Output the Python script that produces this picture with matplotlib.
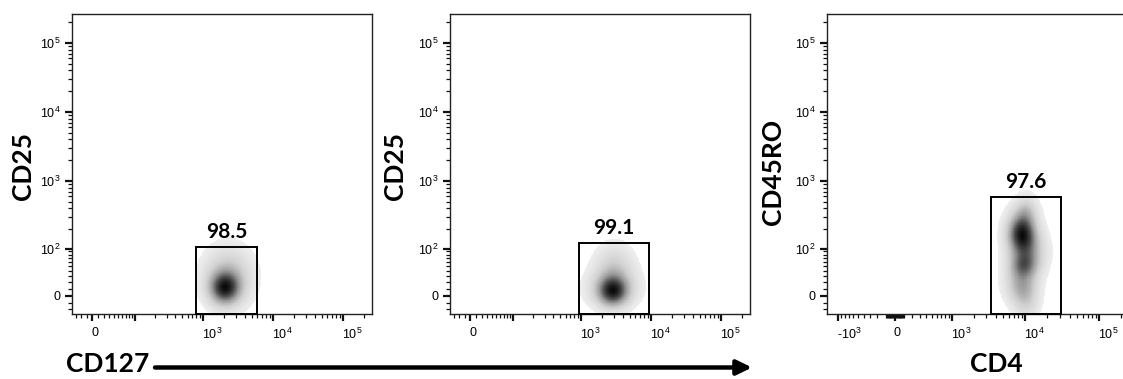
import numpy as np
import matplotlib
matplotlib.use("Agg")
import matplotlib.pyplot as plt
from matplotlib.colors import LinearSegmentedColormap
from matplotlib.patches import Rectangle, FancyArrowPatch, ArrowStyle
from matplotlib.ticker import FixedLocator, FixedFormatter
from matplotlib.transforms import ScaledTranslation

plt.rcParams["mathtext.fontset"] = "custom"
plt.rcParams["mathtext.rm"] = "Liberation Sans"
plt.rcParams["font.family"] = ["Liberation Sans", "DejaVu Sans"]

W, H = 1123, 379
LN10 = np.log(10.0)

# ---- data ----
y_titles = ["CD25", "CD25", "CD45RO"]
gate_freq = ["98.5", "99.1", "97.6"]
gate_x = [(790, 5900), (930, 9400), (3460, 30600)]      # gate left/right (fluorescence)
gate_ytop = [105, 122, 580]

# density blobs: (x, y, sigma_x [decades], sigma_y [decades], weight)
blob_cd127_a = [(2050, 11, 0.15, 0.16, 1.0), (2300, 30, 0.25, 0.3, 0.5)]
blob_cd127_b = [(2850, 6, 0.15, 0.15, 1.0), (3000, 45, 0.2, 0.25, 0.4),
                (2800, 10, 0.28, 0.2, 0.3)]
blob_cd4 = [(9000, 170, 0.13, 0.2, 1.0), (9500, 52, 0.13, 0.13, 0.5),
            (8500, 15, 0.14, 0.18, 0.35), (12000, 90, 0.15, 0.2, 0.3),
            (10500, -5, 0.12, 0.25, 0.25), (10500, 380, 0.1, 0.15, 0.25),
            (9500, 90, 0.22, 0.5, 0.15)]
blobs = [blob_cd127_a, blob_cd127_b, blob_cd4]

major_x12 = [0, 1e2, 1e3, 1e4, 1e5]
major_x12_lab = ["0", "", "$10^3$", "$10^4$", "$10^5$"]
major_x3 = [-1e3, 0, 1e3, 1e4, 1e5]
major_x3_lab = ["-$10^3$", "0", "$10^3$", "$10^4$", "$10^5$"]
major_y = [0, 1e2, 1e3, 1e4, 1e5]
major_y_lab = ["0", "$10^2$", "$10^3$", "$10^4$", "$10^5$"]

# asinh scale widths and limits per axis
c_x12, xlim12 = 26.0, (-37.5, 262144)
c_x3, xlim3 = 175.0, (-1430, 262144)
c_y, ylim = 21.5, (-27.6, 262144)

THRESH = 0.06
DENS_CMAP = LinearSegmentedColormap.from_list(
    "dens", ["#eeeeee", "#cfcfcf", "#999999", "#4a4a4a", "#0a0a0a"])


def make_scale(c):
    def fwd(v):
        return np.arcsinh(np.asarray(v, float) / (2 * c)) / LN10

    def inv(u):
        return 2 * c * np.sinh(np.asarray(u, float) * LN10)
    return fwd, inv


def minor_ticks(lo, hi, majors):
    vals = []
    for k in range(1, 6):
        for m in range(1, 10):
            for s in (1, -1):
                t = s * m * 10 ** k
                if lo < t < hi and t not in majors:
                    vals.append(t)
    return sorted(vals)


def px_axes(fig, left, right, top=14, bottom=314):
    return fig.add_axes([left / W, 1 - bottom / H, (right - left) / W, (bottom - top) / H])


def draw_blob(ax, comps, sx_fn, sy_fn, xlim, ylim):
    fx, ix = sx_fn
    fy, iy = sy_fn
    u = np.linspace(fx(xlim[0]), fx(xlim[1]), 700)
    v = np.linspace(fy(ylim[0]), fy(ylim[1]), 700)
    U, V = np.meshgrid(u, v)
    d = np.zeros_like(U)
    for x0, y0, sx, sy, w in comps:
        d += w * np.exp(-0.5 * (((U - fx(x0)) / sx) ** 2 + ((V - fy(y0)) / sy) ** 2))
    d /= d.max()
    d = np.ma.masked_less(d, THRESH)
    ax.pcolormesh(ix(U), iy(V), d, cmap=DENS_CMAP, vmin=THRESH, vmax=1.0,
                  shading="nearest", zorder=1)


fig = plt.figure(figsize=(W / 100, H / 100), dpi=100)
fig.patch.set_facecolor("white")

layout = [(72, 372), (450, 750), (827, 1130)]
ysc = make_scale(c_y)
for i, (l, r) in enumerate(layout):
    ax = px_axes(fig, l, r)
    if i < 2:
        xsc, xlim, xmaj, xlab = make_scale(c_x12), xlim12, major_x12, major_x12_lab
    else:
        xsc, xlim, xmaj, xlab = make_scale(c_x3), xlim3, major_x3, major_x3_lab
    ax.set_xscale("function", functions=xsc)
    ax.set_yscale("function", functions=ysc)
    ax.set_xlim(*xlim)
    ax.set_ylim(*ylim)

    draw_blob(ax, blobs[i], xsc, ysc, xlim, ylim)

    gx0, gx1 = gate_x[i]
    ax.add_patch(Rectangle((gx0, ylim[0]), gx1 - gx0, gate_ytop[i] - ylim[0],
                           fill=False, ec="black", lw=1.4, zorder=3, clip_on=False))
    ax.annotate(gate_freq[i], (np.sqrt(gx0 * gx1), gate_ytop[i]), xytext=(0, 3.5),
                textcoords="offset points", ha="center", va="bottom",
                fontsize=15, fontweight="bold", family="Lato")

    ax.xaxis.set_major_locator(FixedLocator(xmaj))
    ax.xaxis.set_major_formatter(FixedFormatter(xlab))
    ax.xaxis.set_minor_locator(FixedLocator(minor_ticks(xlim[0], xlim[1], xmaj)))
    ax.yaxis.set_major_locator(FixedLocator(major_y))
    ax.yaxis.set_major_formatter(FixedFormatter(major_y_lab))
    ax.yaxis.set_minor_locator(FixedLocator(minor_ticks(ylim[0], ylim[1], major_y)))
    ax.tick_params(which="major", length=5, width=1.6, labelsize=9, color="#111")
    ax.tick_params(which="minor", length=3, width=0.9, color="#111")
    ax.tick_params(axis="x", pad=4)
    ax.tick_params(axis="y", pad=3)
    for lab in ax.get_xticklabels():
        lab.set_horizontalalignment("left")
        lab.set_transform(lab.get_transform() + ScaledTranslation(-1 / 100, 0, fig.dpi_scale_trans))
    for sp in ax.spines.values():
        sp.set_linewidth(1.0)
        sp.set_color("#222")

    ycx = [23, 395, 773][i]
    ycy = [166, 166, 172][i]
    fig.text(ycx / W, 1 - ycy / H, y_titles[i], rotation=90, ha="center", va="center",
             fontsize=19, fontweight="bold", family="Lato")

fig.text(108 / W, 1 - 364 / H, "CD127", ha="center", va="center",
         fontsize=19, fontweight="bold", family="Lato")
fig.text(996 / W, 1 - 364 / H, "CD4", ha="center", va="center",
         fontsize=19, fontweight="bold", family="Lato")
fig.add_artist(FancyArrowPatch((155 / W, 1 - 367.5 / H), (752 / W, 1 - 367.5 / H),
                               transform=fig.transFigure, color="black", lw=3.2,
                               arrowstyle=ArrowStyle("-|>", head_length=0.45, head_width=0.22),
                               mutation_scale=20, shrinkA=0, shrinkB=0))

fig.savefig("out.png", dpi=100)
